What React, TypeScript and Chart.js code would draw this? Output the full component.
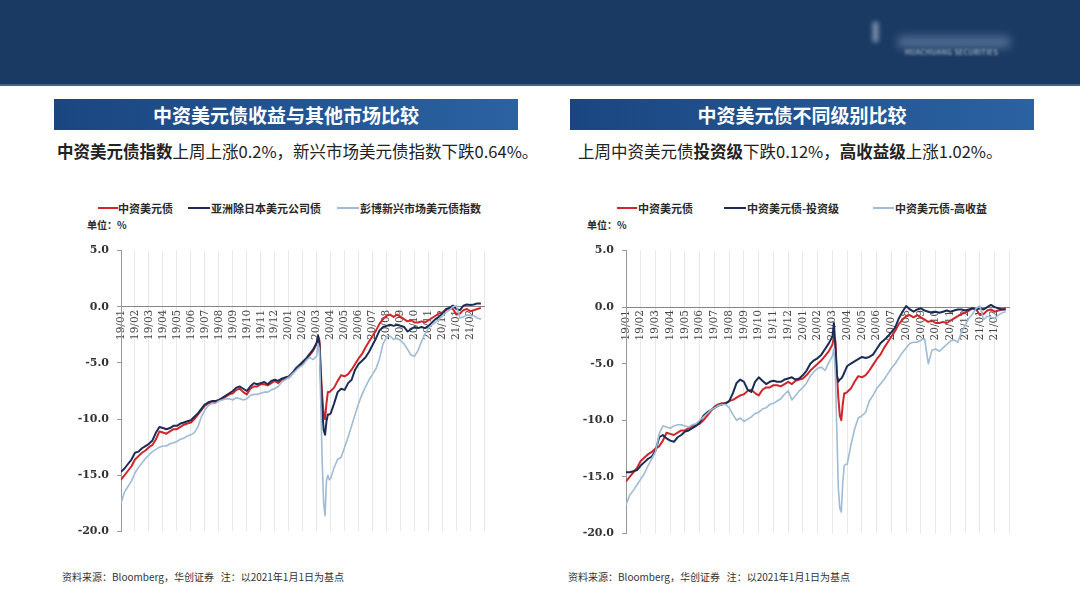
import React, { useEffect, useRef } from 'react';
import { Chart, registerables } from 'chart.js';

Chart.register(...registerables);

// x position of each observation, in months since 2019-01-01
const months = [
  0, 0.25, 0.5, 0.75, 1, 1.25, 1.5, 1.75, 2, 2.25, 2.5, 2.75, 3, 3.25, 3.5, 3.75,
  4, 4.25, 4.5, 4.75, 5, 5.25, 5.5, 5.75, 6, 6.25, 6.5, 6.75, 7, 7.25, 7.5, 7.75,
  8, 8.25, 8.5, 8.75, 9, 9.25, 9.5, 9.75, 10, 10.25, 10.5, 10.75, 11, 11.25, 11.5, 11.75,
  12, 12.25, 12.5, 12.75, 13, 13.25, 13.5, 13.75,
  14, 14.1, 14.2, 14.3, 14.4, 14.5, 14.6, 14.7, 14.8, 14.9, 15,
  15.25, 15.5, 15.75,
  16, 16.25, 16.5, 16.75, 17, 17.25, 17.5, 17.75, 18, 18.25, 18.5, 18.75,
  19, 19.25, 19.5, 19.75, 20, 20.25, 20.5, 20.75, 21, 21.25, 21.5, 21.75,
  22, 22.25, 22.5, 22.75, 23, 23.25, 23.5, 23.75, 24, 24.25, 24.5, 24.75,
  25, 25.25, 25.5, 25.75,
];

const tickLabels = [
  '19/01', '19/02', '19/03', '19/04', '19/05', '19/06', '19/07', '19/08', '19/09', '19/10', '19/11', '19/12',
  '20/01', '20/02', '20/03', '20/04', '20/05', '20/06', '20/07', '20/08', '20/09', '20/10', '20/11', '20/12',
  '21/01', '21/02',
];

// 中资美元债
const cnUsdBond = [
  -15.4, -15.0, -14.6, -14.2, -13.6, -13.3, -13.0, -12.8, -12.5, -12.3, -11.8, -11.1, -11.2, -11.3, -11.1, -10.9,
  -10.9, -10.7, -10.5, -10.4, -10.3, -10.0, -9.6, -9.2, -8.8, -8.6, -8.5, -8.5, -8.3, -8.2, -8.0, -7.8,
  -7.7, -7.4, -7.3, -7.6, -7.8, -7.3, -7.1, -7.1, -6.9, -6.9, -7.0, -6.8, -6.6, -6.8, -6.5, -6.4,
  -6.3, -6.0, -5.6, -5.3, -5.0, -4.7, -4.3, -3.9,
  -3.3, -2.6, -3.0, -5.8, -8.0, -9.6, -10.0, -8.6, -7.6, -7.6, -7.5,
  -7.2, -6.6, -6.1,
  -6.2, -6.0, -5.6, -5.1, -4.6, -4.2, -3.6, -3.1, -2.6, -2.1, -1.5, -1.1,
  -0.8, -0.7, -0.9, -0.7, -0.9, -1.1, -1.3, -1.2, -1.4, -1.4, -1.3, -1.4,
  -1.2, -1.0, -0.8, -0.6, -0.5, -0.3, -0.1, -0.2, -0.7, -0.6, -0.3, -0.2,
  -0.4, -0.3, -0.2, -0.1,
];

// 亚洲除日本美元公司债
const asiaExJapan = [
  -14.7, -14.4, -14.0, -13.6, -13.0, -12.9, -12.6, -12.4, -12.2, -11.9, -11.2, -10.7, -10.8, -10.9, -10.8, -10.6,
  -10.6, -10.4, -10.3, -10.2, -10.1, -9.8, -9.5, -9.1, -8.7, -8.5, -8.4, -8.4, -8.3, -8.1, -7.9, -7.7,
  -7.5, -7.2, -7.1, -7.3, -7.5, -7.1, -6.8, -6.9, -6.8, -6.7, -6.9, -6.6, -6.5, -6.6, -6.4, -6.3,
  -6.2, -5.9, -5.5, -5.2, -4.9, -4.6, -4.2, -3.8,
  -3.2, -2.6, -3.3, -6.5, -9.2, -11.0, -11.4, -10.2, -9.6, -9.6, -9.5,
  -8.6, -7.6, -7.3,
  -7.4, -6.8, -6.5, -5.6, -5.1, -4.8, -4.5, -4.0, -3.4, -2.8, -2.1, -1.8,
  -1.7, -1.6, -1.7, -1.6, -1.7, -1.8, -2.2, -2.0, -1.8, -1.9, -1.8, -1.9,
  -1.7, -1.4, -1.1, -0.9, -0.6, -0.2, -0.1, 0.1, -0.2, -0.3, 0.1, 0.2,
  0.15, 0.2, 0.3, 0.3,
];

// 彭博新兴市场美元债指数
const bbgEmUsd = [
  -17.5, -16.5, -16.0, -15.5, -14.8, -14.3, -13.9, -13.5, -13.2, -12.9, -12.7, -12.5, -12.4, -12.4, -12.2, -12.1,
  -12.0, -11.8, -11.7, -11.5, -11.4, -11.2, -10.7, -9.8, -9.2, -8.8, -8.6, -8.6, -8.4, -8.3, -8.2, -8.2,
  -8.3, -8.1, -8.2, -8.3, -8.2, -7.9, -7.8, -7.8, -7.7, -7.6, -7.6, -7.4, -7.3, -7.1, -6.7, -6.5,
  -6.3, -6.0, -5.7, -5.4, -5.2, -4.8, -4.5, -4.7,
  -4.4, -3.3, -3.8, -9.0, -14.0, -17.5, -18.6, -15.5, -15.0, -15.4, -15.3,
  -14.3, -13.6, -13.4,
  -12.5, -11.6, -10.6, -9.6, -8.6, -7.8, -7.1, -6.5, -6.0, -5.5, -4.6, -3.3,
  -2.7, -2.6, -2.9, -2.8, -3.0, -3.3, -3.8, -4.3, -4.4, -3.9, -3.1, -2.4,
  -1.9, -1.6, -1.4, -1.1, -0.8, -0.5, -0.3, 0.0, 0.1, -1.0, -0.9, -0.7,
  -0.8, -0.8, -1.0, -1.1,
];

// 中资美元债-投资级
const cnInvestmentGrade = [
  -14.6, -14.6, -14.5, -14.4, -14.0, -13.7, -13.4, -13.2, -12.7, -11.5, -11.3, -11.6, -11.8, -11.9, -11.5, -11.3,
  -11.0, -10.9, -10.7, -10.5, -10.2, -9.6, -9.3, -9.1, -8.9, -8.7, -8.6, -8.5, -8.3, -7.6, -6.7, -6.4,
  -6.6, -7.3, -7.5, -6.6, -6.2, -6.5, -6.8, -6.6, -6.5, -6.6, -6.6, -6.4, -6.3, -6.2, -6.4, -6.3,
  -6.0, -5.6, -5.0, -4.7, -4.5, -4.2, -3.7, -3.2,
  -2.6, -1.4, -3.5, -6.0, -6.6, -6.4, -6.3, -6.1, -5.8, -5.5, -5.2,
  -5.0, -4.8, -4.6,
  -4.4, -4.5, -4.4, -4.2, -3.7, -3.2, -2.9, -2.6, -2.2, -1.8, -1.0, -0.4,
  0.1, -0.2, -0.4, -0.2, -0.1, -0.3, -0.4, -0.5, -0.4, -0.5, -0.4, -0.3,
  -0.4, -0.3, -0.2, -0.2, -0.3, -0.2, -0.1, -0.2, -0.1, -0.2, 0.0, 0.2,
  0.0, -0.1, -0.2, -0.2,
];

// 中资美元债-高收益
const cnHighYield = [
  -17.5, -16.6, -16.2, -15.7, -15.2, -14.7, -14.0, -13.4, -12.8, -11.2, -10.5, -10.6, -10.7, -10.5, -10.4, -10.4,
  -10.5, -10.6, -10.4, -10.3, -10.0, -9.7, -9.4, -9.1, -8.9, -8.7, -8.6, -8.6, -8.9, -9.5, -10.0, -9.8,
  -10.1, -9.9, -9.7, -9.4, -9.3, -9.0, -8.9, -8.6, -8.5, -8.3, -8.1, -7.7, -7.4, -8.2, -7.8, -7.4,
  -7.1, -6.7, -6.1, -5.7, -5.4, -5.3, -5.6, -4.9,
  -4.3, -3.7, -6.0, -11.0, -16.0, -17.8, -18.1, -15.5, -14.0, -13.9, -13.9,
  -12.2, -10.8, -9.8,
  -9.6, -9.3, -8.3, -7.8, -7.2, -6.8, -6.4, -5.9, -5.4, -5.0, -4.5, -4.0,
  -3.6, -3.2, -3.1, -3.1, -2.9, -2.8, -5.0, -3.8, -3.7, -3.9, -3.6, -3.3,
  -3.0, -2.9, -3.1, -2.2, -1.6, -1.0, -0.6, -0.1, 0.1, -1.1, -0.8, -0.9,
  -1.0, -0.7, -0.5, -0.4,
];

const RED = '#d0262b';
const NAVY = '#1b2d55';
const LIGHT = '#9fbbd6';

type Series = { label: string; data: number[]; color: string; width: number; order: number };

type ChartProps = {
  series: Series[];
  left: number;
  top: number;
  width: number;
  height: number;
  padRight: number;
  padTop: number;
  padBottom: number;
  axisWidth: number;
};

function LineChart({ series, left, top, width, height, padRight, padTop, padBottom, axisWidth }: ChartProps) {
  const ref = useRef<HTMLCanvasElement>(null);
  useEffect(() => {
    const chart = new Chart(ref.current as HTMLCanvasElement, {
      type: 'line',
      data: {
        datasets: series.map((s) => ({
          label: s.label,
          data: months.map((m, i) => ({ x: m, y: s.data[i] })),
          borderColor: s.color,
          backgroundColor: s.color,
          borderWidth: s.width,
          pointRadius: 0,
          tension: 0,
          order: s.order,
          borderJoinStyle: 'round' as const,
        })),
      },
      options: {
        responsive: false,
        animation: false,
        devicePixelRatio: 1,
        layout: { padding: { left: 0, right: padRight, top: padTop, bottom: padBottom } },
        plugins: { legend: { display: false }, tooltip: { enabled: false } },
        scales: {
          x: {
            type: 'linear',
            min: 0,
            max: 26,
            position: { y: 0 } as any,
            ticks: {
              stepSize: 1,
              autoSkip: false,
              minRotation: 90,
              maxRotation: 90,
              padding: 3,
              color: '#444',
              font: { family: "'DejaVu Serif', serif", size: 10.5 },
              callback: (v: any) => tickLabels[Math.round(Number(v))] ?? '',
            },
            grid: { color: '#e8e8e8', lineWidth: 1, drawTicks: false },
            border: { display: true, color: '#858585', width: 1 },
          },
          y: {
            type: 'linear',
            min: -20,
            max: 5,
            ticks: {
              stepSize: 5,
              padding: 8,
              color: '#333',
              font: { family: "'DejaVu Serif', serif", size: 11, weight: 'bold' },
              callback: (v: any) => Number(v).toFixed(1),
            },
            grid: { display: true, drawOnChartArea: false, tickLength: 4, color: '#999' },
            border: { display: true, color: '#999', width: 1 },
            afterFit: (scale: any) => {
              scale.width = axisWidth;
            },
          },
        },
      },
    });
    return () => chart.destroy();
  }, []);
  return (
    <canvas
      ref={ref}
      width={width}
      height={height}
      style={{ position: 'absolute', left, top, width, height }}
    />
  );
}

const leftSeries: Series[] = [
  { label: '中资美元债', data: cnUsdBond, color: RED, width: 2, order: 3 },
  { label: '亚洲除日本美元公司债', data: asiaExJapan, color: NAVY, width: 2, order: 2 },
  { label: '彭博新兴市场美元债指数', data: bbgEmUsd, color: LIGHT, width: 1.6, order: 1 },
];

const rightSeries: Series[] = [
  { label: '中资美元债', data: cnUsdBond, color: RED, width: 2, order: 3 },
  { label: '中资美元债-投资级', data: cnInvestmentGrade, color: NAVY, width: 2, order: 2 },
  { label: '中资美元债-高收益', data: cnHighYield, color: LIGHT, width: 1.6, order: 1 },
];

const CJK = "'Noto Sans CJK SC', 'Noto Sans', sans-serif";

function LegendItem({ x, lineW, color, text, textX }: { x: number; lineW: number; color: string; text: string; textX: number }) {
  return (
    <>
      <div style={{ position: 'absolute', left: x, top: 207, width: lineW, height: 2, background: color }} />
      <div
        style={{
          position: 'absolute',
          left: textX,
          top: 200,
          height: 16,
          lineHeight: '16px',
          fontSize: 11,
          fontWeight: 'bold',
          color: '#2a2a2a',
          whiteSpace: 'nowrap',
        }}
      >
        {text}
      </div>
    </>
  );
}

function TitleBar({ left, text }: { left: number; text: string }) {
  return (
    <div
      style={{
        position: 'absolute',
        left,
        top: 99,
        width: 464,
        height: 31,
        background: 'linear-gradient(to right, #1a4680, #2b62a2)',
        color: '#fff',
        fontSize: 19,
        fontWeight: 'bold',
        lineHeight: '31px',
        textAlign: 'center',
      }}
    >
      {text}
    </div>
  );
}

const small: React.CSSProperties = {
  position: 'absolute',
  fontSize: 10,
  color: '#333',
  whiteSpace: 'nowrap',
  lineHeight: '14px',
};

export default function App() {
  useEffect(() => {
    document.body.style.margin = '0';
  }, []);
  return (
    <div
      style={{
        position: 'fixed',
        left: 0,
        top: 0,
        width: 1080,
        height: 608,
        background: '#ffffff',
        overflow: 'hidden',
        fontFamily: CJK,
      }}
    >
      {/* header band */}
      <div style={{ position: 'absolute', left: 0, top: 0, width: 1080, height: 84, background: '#1b3a63' }} />
      <div style={{ position: 'absolute', left: 0, top: 84, width: 1080, height: 2, background: '#4a6380' }} />
      <div
        style={{
          position: 'absolute',
          left: 873,
          top: 22,
          width: 5,
          height: 20,
          background: '#b9c9dc',
          filter: 'blur(2.5px)',
          opacity: 0.7,
        }}
      />
      <div
        style={{
          position: 'absolute',
          left: 898,
          top: 36,
          width: 112,
          height: 12,
          background: '#6f8aae',
          filter: 'blur(4px)',
          opacity: 0.6,
        }}
      />
      <div
        style={{
          position: 'absolute',
          left: 905,
          top: 47,
          fontSize: 7,
          color: '#d6e0ec',
          whiteSpace: 'nowrap',
          letterSpacing: 0.5,
          filter: 'blur(0.8px)',
          opacity: 0.85,
        }}
      >
        HUACHUANG SECURITIES
      </div>

      {/* section titles */}
      <TitleBar left={54} text="中资美元债收益与其他市场比较" />
      <TitleBar left={570} text="中资美元债不同级别比较" />

      {/* subtitles */}
      <div style={{ position: 'absolute', left: 57, top: 139, fontSize: 16.5, lineHeight: '24px', color: '#222', whiteSpace: 'nowrap' }}>
        <b>中资美元债指数</b>上周上涨0.2%，新兴市场美元债指数下跌0.64%。
      </div>
      <div style={{ position: 'absolute', left: 578, top: 139, fontSize: 16.5, lineHeight: '24px', color: '#222', whiteSpace: 'nowrap' }}>
        上周中资美元债<b>投资级</b>下跌0.12%，<b>高收益级</b>上涨1.02%。
      </div>

      {/* left legend */}
      <LegendItem x={98} lineW={20} color={RED} text="中资美元债" textX={118} />
      <LegendItem x={188} lineW={22} color={NAVY} text="亚洲除日本美元公司债" textX={211} />
      <LegendItem x={337} lineW={22} color={LIGHT} text="彭博新兴市场美元债指数" textX={360} />
      <div style={{ ...small, left: 87, top: 218, fontWeight: 'bold', color: '#2a2a2a' }}>单位：%</div>

      {/* right legend */}
      <LegendItem x={617} lineW={20} color={RED} text="中资美元债" textX={638} />
      <LegendItem x={724} lineW={22} color={NAVY} text="中资美元债-投资级" textX={747} />
      <LegendItem x={873} lineW={21} color={LIGHT} text="中资美元债-高收益" textX={895} />
      <div style={{ ...small, left: 587, top: 218, fontWeight: 'bold', color: '#2a2a2a' }}>单位：%</div>

      {/* charts */}
      <LineChart series={leftSeries} left={60} top={236} width={440} height={310} padRight={13.5} padTop={10} padBottom={12} axisWidth={61} />
      <LineChart series={rightSeries} left={565} top={236} width={460} height={312} padRight={13} padTop={10.5} padBottom={12} axisWidth={61} />

      {/* sources */}
      <div style={{ ...small, left: 62, top: 570 }}>资料来源：Bloomberg，华创证券&nbsp;&nbsp;&nbsp;注：以2021年1月1日为基点</div>
      <div style={{ ...small, left: 568, top: 570 }}>资料来源：Bloomberg，华创证券&nbsp;&nbsp;&nbsp;注：以2021年1月1日为基点</div>
    </div>
  );
}
